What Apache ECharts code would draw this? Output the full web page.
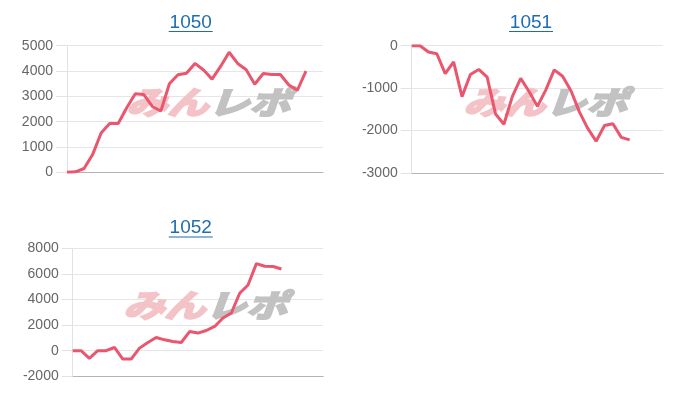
<!DOCTYPE html>
<html>
<head>
<meta charset="utf-8">
<script src="https://cdn.jsdelivr.net/npm/echarts@6/dist/echarts.min.js"></script>
<style>
html,body{margin:0;padding:0;background:#fff;}
#chart{width:700px;height:400px;}
</style>
</head>
<body>
<div id="chart"></div>
<script>
// Category axis (time slots) shared by all three charts
var categories = ['1','2','3','4','5','6','7','8','9','10','11','12','13','14','15','16','17','18','19','20','21','22','23','24','25','26','27','28','29','30','31'];

// Machine titles
var titles = ['1050', '1051', '1052'];

// Series values
var data1050 = [0, 20, 150, 700, 1550, 1930, 1930, 2550, 3100, 3070, 2600, 2420, 3500, 3850, 3910, 4300, 4040, 3680, 4180, 4740, 4300, 4050, 3480, 3900, 3860, 3860, 3450, 3240, 4000];
var data1051 = [0, 0, -150, -190, -660, -380, -1200, -680, -560, -740, -1610, -1850, -1200, -770, -1080, -1430, -1040, -570, -720, -1060, -1560, -1950, -2250, -1880, -1840, -2160, -2220];
var data1052 = [0, 0, -600, 0, 0, 250, -660, -660, 200, 640, 1030, 850, 720, 640, 1500, 1380, 1580, 1900, 2560, 2950, 4500, 5150, 6820, 6620, 6600, 6400];

// Y axis ranges / tick steps
var yMin = [0, -3000, -2000];
var yMax = [5000, 0, 8000];
var yStep = [1000, 1000, 2000];

var lineColor = '#e9566d';
var grids = [
  {left: 67, top: 45.7, width: 256, height: 126.6},
  {left: 411.7, top: 45.7, width: 251.5, height: 127.3},
  {left: 72.7, top: 248.6, width: 250.5, height: 127.6}
];
var titlePos = [[190.7, 13], [531, 13], [190.7, 218.5]];
var wmPos = [[125, 87], [462, 87], [122, 290]];

var option = {
  animation: false,
  backgroundColor: '#fff',
  grid: grids,
  xAxis: [],
  yAxis: [],
  series: [],
  graphic: []
};
var seriesData = [data1050, data1051, data1052];
for (var i = 0; i < 3; i++) {
  option.graphic.push({
    type: 'text', z: 10,
    x: titlePos[i][0], y: titlePos[i][1],
    style: {text: titles[i], textAlign: 'center', textVerticalAlign: 'top', font: '19px "Liberation Sans"', fill: '#1f6db0'}
  });
  option.graphic.push({
    type: 'line', z: 10,
    shape: {x1: titlePos[i][0] - 22, y1: titlePos[i][1] + 18.5, x2: titlePos[i][0] + 22, y2: titlePos[i][1] + 18.5},
    style: {stroke: '#1f6db0', lineWidth: 1.2}
  });
  option.graphic.push({
    type: 'text', z: 1,
    x: wmPos[i][0], y: wmPos[i][1] + 31, scaleX: 1.2, scaleY: 0.92,
    style: {text: 'みん', textVerticalAlign: 'bottom', font: 'bold 34px "Noto Sans CJK JP"',
      fill: '#f3c3c7', stroke: '#f3c3c7', lineWidth: 2.5}
  });
  option.graphic.push({
    type: 'text', z: 1,
    x: wmPos[i][0] + 82, y: wmPos[i][1] + 31, scaleX: 1.2, scaleY: 0.92,
    style: {text: 'レポ', textVerticalAlign: 'bottom', font: 'bold 34px "Noto Sans CJK JP"',
      fill: '#c2c2c2', stroke: '#c2c2c2', lineWidth: 2.5}
  });
  option.xAxis.push({
    type: 'category', gridIndex: i, data: categories, boundaryGap: false,
    axisLine: {show: true, onZero: false, lineStyle: {color: '#b5b5b5', width: 1}},
    axisTick: {show: false}, axisLabel: {show: false}, splitLine: {show: false}
  });
  option.yAxis.push({
    type: 'value', gridIndex: i, min: yMin[i], max: yMax[i], interval: yStep[i],
    axisLine: {show: true, lineStyle: {color: '#e2e2e2'}},
    axisTick: {show: true, length: 11, lineStyle: {color: '#e2e2e2'}},
    axisLabel: {color: '#666', fontSize: 14, fontFamily: 'Liberation Sans', margin: 14,
      formatter: function (v) { return String(v); }},
    splitLine: {show: true, lineStyle: {color: '#e6e6e6'}}
  });
  option.series.push({
    type: 'line', xAxisIndex: i, yAxisIndex: i, data: seriesData[i],
    showSymbol: false, symbol: 'none', z: 5,
    lineStyle: {color: lineColor, width: 3}, itemStyle: {color: lineColor}
  });
}
var chart = echarts.init(document.getElementById('chart'), null, {renderer: 'canvas'});
chart.setOption(option);

// Slant the watermark glyphs (the logo is an oblique wordmark)
try {
  var zr = chart.getZr();
  var list = zr.storage.getDisplayList(true);
  list.forEach(function (el) {
    var t = el.style && el.style.text;
    if (t === 'みん' || t === 'レポ') {
      var p = el.parent;
      var target = (p && p.style && p.style.text === t) ? p : el;
      target.skewX = -0.35;
      target.markRedraw && target.markRedraw();
      el.markRedraw && el.markRedraw();
    }
  });
  zr.refreshImmediately();
} catch (e) {}
</script>
</body>
</html>
